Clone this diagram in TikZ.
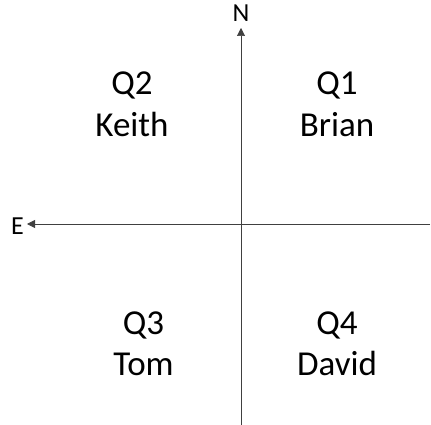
\documentclass[tikz,border=0pt]{standalone}
\usepackage{fontspec}
\setmainfont{Carlito}
\usetikzlibrary{arrows.meta}
\begin{document}
\begin{tikzpicture}[x=1pt,y=-1pt,
  axis/.style={draw=black!75,line width=0.8pt,-{Triangle[length=8pt,width=8pt]}},
  big/.style={font=\fontsize{35}{42}\selectfont,anchor=base,inner sep=0pt},
  dir/.style={font=\fontsize{26}{30}\selectfont,anchor=base,inner sep=0pt}]
\useasboundingbox (0,0) rectangle (431,425);
\coordinate (vb) at (241,425);
\coordinate (vt) at (241,28);
\coordinate (hr) at (430,224);
\coordinate (hl) at (27,224);
\draw[axis,line width=0.6pt] (vb) -- (vt);
\draw[axis] (hr) -- (hl);
\node[dir] (n) at (241,22) {N};
\node[dir] (e) at (17.5,234) {E};
\node[big] (q2) at (132,95) {Q2};
\node[big] (keith) at (132,136) {Keith};
\node[big] (q1) at (337,95) {Q1};
\node[big] (brian) at (337,136) {Brian};
\node[big] (q3) at (143.5,334) {Q3};
\node[big] (tom) at (143.5,375) {Tom};
\node[big] (q4) at (337,334) {Q4};
\node[big] (david) at (337,375) {David};
\end{tikzpicture}
\end{document}
